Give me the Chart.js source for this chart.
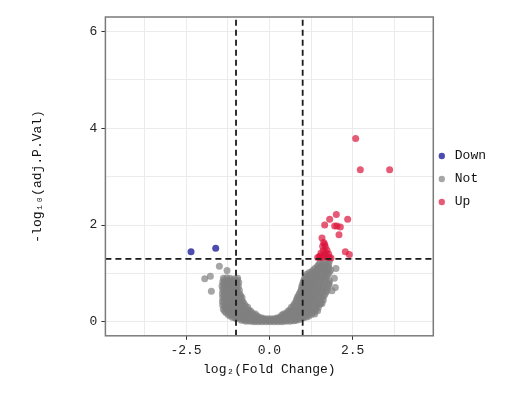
<!DOCTYPE html>
<html>
<head>
<meta charset="utf-8">
<script src="https://cdn.jsdelivr.net/npm/chart.js@4/dist/chart.umd.min.js"></script>
<style>
  html, body { margin: 0; padding: 0; background: #fff; }
  #wrap { width: 530px; height: 394px; }
</style>
</head>
<body>
<div id="wrap"><canvas id="volcano"></canvas></div>
<script>
// Data: [log2FC, -log10(adj.P.Val)]
const groupLabels = ["Down", "Not", "Up"];
const groupColors = ["rgba(0,0,139,0.7)", "rgba(128,128,128,0.7)", "rgba(220,20,60,0.7)"];

const downPoints = [[-2.35, 1.45], [-1.61, 1.52]];

const upPoints = [
  [2.59, 3.79], [2.73, 3.14], [3.61, 3.14], [2.01, 2.22], [1.81, 2.12], [2.35, 2.12],
  [1.66, 2.00], [1.96, 1.98], [2.03, 1.98], [2.13, 1.96], [2.09, 1.80], [1.58, 1.73],
  [1.63, 1.64], [1.68, 1.55], [1.73, 1.48], [2.28, 1.45], [2.40, 1.39], [1.45, 1.33],
  [1.52, 1.36], [1.58, 1.33], [1.65, 1.37], [1.72, 1.34], [1.80, 1.33], [1.55, 1.42],
  [1.62, 1.47], [1.70, 1.42], [1.78, 1.40], [1.60, 1.56], [1.66, 1.60], [1.50, 1.34],
  [1.85, 1.32]
];

const notPoints = [
  // left stragglers
  [-1.94, 0.89], [-1.77, 0.94], [-1.74, 0.63], [-1.50, 1.15], [-1.27, 1.06],
  // left arm
  [-1.38, 0.90], [-1.28, 0.91], [-1.18, 0.90], [-1.05, 0.89], [-0.95, 0.90],
  [-1.35, 0.86], [-1.25, 0.86], [-1.15, 0.86], [-1.03, 0.86], [-0.96, 0.86],
  [-1.40, 0.82], [-1.30, 0.83], [-1.20, 0.81], [-1.10, 0.82], [-1.00, 0.83], [-0.92, 0.81],
  [-1.37, 0.78], [-1.27, 0.78], [-1.17, 0.78], [-1.07, 0.78], [-0.97, 0.78],
  [-1.42, 0.74], [-1.32, 0.75], [-1.22, 0.73], [-1.12, 0.74], [-1.02, 0.75], [-0.93, 0.73],
  [-1.37, 0.70], [-1.27, 0.70], [-1.17, 0.70], [-1.07, 0.70], [-0.97, 0.70],
  [-1.40, 0.66], [-1.30, 0.67], [-1.20, 0.65], [-1.10, 0.66], [-1.00, 0.67], [-0.90, 0.65],
  [-1.36, 0.62], [-1.26, 0.62], [-1.16, 0.62], [-1.06, 0.62], [-0.95, 0.62],
  [-1.41, 0.58], [-1.31, 0.59], [-1.21, 0.57], [-1.11, 0.58], [-1.01, 0.59], [-0.89, 0.57],
  [-1.36, 0.54], [-1.26, 0.54], [-1.16, 0.54], [-1.06, 0.54], [-0.96, 0.54], [-0.86, 0.54],
  [-1.40, 0.50], [-1.30, 0.51], [-1.20, 0.49], [-1.10, 0.50], [-1.00, 0.51], [-0.90, 0.49], [-0.82, 0.50],
  [-1.36, 0.46], [-1.26, 0.46], [-1.16, 0.46], [-1.06, 0.46], [-0.96, 0.46], [-0.85, 0.46],
  [-1.41, 0.42], [-1.31, 0.43], [-1.21, 0.41], [-1.11, 0.42], [-1.01, 0.43], [-0.91, 0.41], [-0.80, 0.42],
  [-1.36, 0.38], [-1.26, 0.38], [-1.16, 0.38], [-1.06, 0.38], [-0.96, 0.38], [-0.85, 0.38], [-0.76, 0.38],
  [-1.40, 0.34], [-1.30, 0.35], [-1.20, 0.33], [-1.10, 0.34], [-1.00, 0.35], [-0.90, 0.33], [-0.80, 0.34], [-0.72, 0.33],
  [-1.34, 0.30], [-1.24, 0.30], [-1.14, 0.30], [-1.04, 0.30], [-0.94, 0.30], [-0.84, 0.30], [-0.74, 0.30], [-0.65, 0.30],
  [-1.38, 0.26], [-1.28, 0.27], [-1.18, 0.25], [-1.08, 0.26], [-0.98, 0.27], [-0.88, 0.25], [-0.78, 0.26], [-0.68, 0.25], [-0.60, 0.24],
  [-1.34, 0.22], [-1.24, 0.22], [-1.14, 0.22], [-1.04, 0.22], [-0.94, 0.22], [-0.84, 0.22], [-0.74, 0.22], [-0.64, 0.22], [-0.55, 0.21],
  [-1.30, 0.19], [-1.20, 0.20], [-1.10, 0.18], [-1.00, 0.19], [-0.90, 0.20], [-0.80, 0.18], [-0.70, 0.19], [-0.60, 0.18], [-0.50, 0.17], [-0.42, 0.16],
  [-1.24, 0.15], [-1.14, 0.15], [-1.04, 0.15], [-0.94, 0.15], [-0.84, 0.15], [-0.74, 0.15], [-0.64, 0.15], [-0.54, 0.14], [-0.45, 0.13], [-0.36, 0.12],
  [-1.18, 0.12], [-1.08, 0.13], [-0.98, 0.11], [-0.88, 0.12], [-0.78, 0.11], [-0.68, 0.12], [-0.58, 0.11], [-0.48, 0.10], [-0.38, 0.10], [-0.30, 0.09], [-0.22, 0.08],
  // bottom of the U
  [-1.10, 0.09], [-1.02, 0.09], [-0.92, 0.09], [-0.82, 0.09], [-0.72, 0.08], [-0.62, 0.08], [-0.52, 0.08], [-0.42, 0.07],
  [-0.33, 0.07], [-0.25, 0.06], [-0.15, 0.06], [-0.05, 0.06], [0.05, 0.06], [0.15, 0.06], [0.25, 0.06], [0.34, 0.07],
  [0.43, 0.07], [0.53, 0.08], [0.63, 0.08], [0.73, 0.08], [0.83, 0.09], [0.93, 0.09], [1.03, 0.09], [1.12, 0.10],
  [-1.00, 0.07], [-0.90, 0.06], [-0.80, 0.06], [-0.70, 0.05], [-0.60, 0.05], [-0.50, 0.05], [-0.40, 0.04],
  [-0.30, 0.04], [-0.20, 0.04], [-0.10, 0.04], [0.00, 0.04], [0.10, 0.04], [0.20, 0.04], [0.30, 0.04],
  [0.40, 0.05], [0.50, 0.05], [0.60, 0.05], [0.70, 0.06], [0.80, 0.06], [0.90, 0.07], [1.00, 0.08],
  [-0.84, 0.03], [-0.76, 0.03], [-0.64, 0.03], [-0.52, 0.02], [-0.40, 0.02], [-0.28, 0.02], [-0.16, 0.02], [-0.04, 0.02],
  [0.08, 0.02], [0.20, 0.02], [0.32, 0.02], [0.44, 0.02], [0.56, 0.03], [0.68, 0.03], [0.80, 0.03], [0.88, 0.04],
  [-0.70, 0.01], [-0.58, 0.01], [-0.46, 0.00], [-0.34, 0.00], [-0.22, 0.00], [-0.10, 0.00], [0.02, 0.00],
  [0.14, 0.00], [0.26, 0.00], [0.38, 0.00], [0.50, 0.01], [0.62, 0.01], [0.74, 0.02],
  // right arm
  [0.22, 0.08], [0.30, 0.09], [0.38, 0.10], [0.48, 0.11], [0.58, 0.11], [0.68, 0.12], [0.78, 0.12], [0.88, 0.12], [0.98, 0.12], [1.08, 0.13], [1.18, 0.12],
  [0.36, 0.13], [0.45, 0.14], [0.55, 0.15], [0.65, 0.15], [0.75, 0.15], [0.85, 0.15], [0.95, 0.15], [1.05, 0.15], [1.15, 0.15], [1.26, 0.15], [1.36, 0.16],
  [0.42, 0.16], [0.50, 0.17], [0.60, 0.18], [0.70, 0.19], [0.80, 0.19], [0.90, 0.20], [1.00, 0.19], [1.10, 0.18], [1.20, 0.20], [1.32, 0.19],
  [0.55, 0.21], [0.64, 0.22], [0.74, 0.22], [0.84, 0.22], [0.94, 0.22], [1.04, 0.22], [1.14, 0.22], [1.24, 0.22], [1.35, 0.22], [1.45, 0.23],
  [0.60, 0.24], [0.68, 0.25], [0.78, 0.26], [0.88, 0.27], [0.98, 0.26], [1.08, 0.25], [1.18, 0.27], [1.28, 0.26], [1.40, 0.25],
  [0.66, 0.30], [0.75, 0.30], [0.85, 0.30], [0.95, 0.30], [1.05, 0.30], [1.15, 0.30], [1.25, 0.30], [1.36, 0.30], [1.47, 0.30],
  [0.72, 0.33], [0.80, 0.34], [0.90, 0.35], [1.00, 0.33], [1.10, 0.34], [1.20, 0.35], [1.30, 0.33], [1.42, 0.34], [1.52, 0.36],
  [0.76, 0.38], [0.85, 0.38], [0.95, 0.38], [1.05, 0.38], [1.15, 0.38], [1.25, 0.38], [1.36, 0.38], [1.48, 0.38], [1.58, 0.38],
  [0.80, 0.42], [0.91, 0.41], [1.01, 0.43], [1.11, 0.42], [1.21, 0.41], [1.31, 0.43], [1.41, 0.42], [1.55, 0.40],
  [0.82, 0.46], [0.88, 0.46], [0.97, 0.46], [1.07, 0.46], [1.17, 0.46], [1.27, 0.46], [1.37, 0.46], [1.50, 0.46], [1.62, 0.45],
  [0.84, 0.50], [0.92, 0.49], [1.02, 0.51], [1.12, 0.50], [1.22, 0.49], [1.32, 0.51], [1.44, 0.50], [1.58, 0.48],
  [0.87, 0.54], [0.96, 0.54], [1.06, 0.54], [1.16, 0.54], [1.26, 0.54], [1.36, 0.54], [1.48, 0.54], [1.62, 0.53],
  [0.90, 0.58], [1.00, 0.57], [1.10, 0.59], [1.20, 0.58], [1.30, 0.57], [1.40, 0.59], [1.52, 0.58], [1.66, 0.56],
  [0.93, 0.62], [1.03, 0.62], [1.13, 0.62], [1.23, 0.62], [1.33, 0.62], [1.44, 0.62], [1.56, 0.62], [1.70, 0.61],
  [0.96, 0.66], [1.06, 0.65], [1.16, 0.67], [1.26, 0.66], [1.36, 0.65], [1.48, 0.67], [1.60, 0.66], [1.72, 0.64],
  [0.97, 0.70], [1.07, 0.70], [1.17, 0.70], [1.27, 0.70], [1.37, 0.70], [1.49, 0.70], [1.61, 0.70], [1.74, 0.69],
  [0.98, 0.74], [1.08, 0.73], [1.18, 0.75], [1.28, 0.74], [1.38, 0.73], [1.50, 0.75], [1.62, 0.74], [1.76, 0.73],
  [1.00, 0.78], [1.10, 0.78], [1.20, 0.78], [1.30, 0.78], [1.40, 0.78], [1.52, 0.78], [1.64, 0.78], [1.78, 0.77],
  [1.02, 0.82], [1.12, 0.81], [1.22, 0.83], [1.32, 0.82], [1.42, 0.81], [1.54, 0.83], [1.66, 0.82], [1.80, 0.80],
  [1.04, 0.86], [1.14, 0.86], [1.24, 0.86], [1.34, 0.86], [1.44, 0.86], [1.56, 0.86], [1.68, 0.86], [1.80, 0.85],
  [1.06, 0.90], [1.16, 0.89], [1.26, 0.91], [1.36, 0.90], [1.46, 0.89], [1.58, 0.91], [1.70, 0.90],
  [1.09, 0.94], [1.19, 0.94], [1.29, 0.94], [1.39, 0.94], [1.49, 0.94], [1.61, 0.94], [1.73, 0.94],
  [1.12, 0.98], [1.22, 0.97], [1.32, 0.99], [1.42, 0.98], [1.52, 0.97], [1.64, 0.99], [1.76, 0.98],
  [1.20, 1.02], [1.27, 1.02], [1.37, 1.02], [1.47, 1.02], [1.57, 1.02], [1.68, 1.02], [1.80, 1.02],
  [1.30, 1.06], [1.40, 1.05], [1.50, 1.07], [1.60, 1.06], [1.72, 1.05], [1.84, 1.07],
  [1.36, 1.10], [1.45, 1.10], [1.55, 1.10], [1.66, 1.10], [1.78, 1.10],
  [1.44, 1.14], [1.54, 1.13], [1.64, 1.15], [1.76, 1.14],
  [1.48, 1.18], [1.58, 1.18], [1.68, 1.18], [1.78, 1.18],
  [1.52, 1.22], [1.62, 1.23], [1.72, 1.21], [1.80, 1.25],
  // right stragglers
  [1.98, 0.71], [1.88, 0.64], [1.95, 0.90], [2.00, 1.10]
];

const xTickLabels = [-2.5, 0, 2.5];
const xGridValues = [-3.75, -2.5, -1.25, 0, 1.25, 2.5, 3.75];
const yTickLabels = [0, 2, 4, 6];
const yGridValues = [0, 1, 2, 3, 4, 5, 6];
const fcCutoffs = [-1, 1];
const pCutoff = 1.3;
const xRange = [-4.92, 4.92];
const yRange = [-0.29, 6.3];

const monoFont = "'Liberation Mono', 'DejaVu Sans Mono', monospace";

function toXY(list) {
  return list.map((p) => ({ x: p[0], y: p[1] }));
}

function dashed(data) {
  return {
    type: "line",
    data: data,
    borderColor: "#1a1a1a",
    borderWidth: 1.8,
    borderDash: [6, 4],
    pointRadius: 0,
    fill: false,
    order: 0,
  };
}

const datasets = [
  { label: groupLabels[0], data: toXY(downPoints), backgroundColor: groupColors[0], order: 1 },
  { label: groupLabels[1], data: toXY(notPoints), backgroundColor: groupColors[1], order: 2 },
  { label: groupLabels[2], data: toXY(upPoints), backgroundColor: groupColors[2], order: 1 },
];
datasets.forEach((d) => {
  d.pointRadius = 3.5;
  d.pointBorderWidth = 0;
  d.borderColor = "transparent";
});
fcCutoffs.forEach((fc) => {
  datasets.push(dashed([{ x: fc, y: yRange[0] }, { x: fc, y: yRange[1] }]));
});
datasets.push(dashed([{ x: xRange[0], y: pCutoff }, { x: xRange[1], y: pCutoff }]));

// panel border on all four sides, legend nudged to sit beside the panel centre
const panelBorder = {
  id: "panelBorder",
  afterLayout(chart) {
    const lg = chart.legend;
    if (lg) {
      lg.top -= 18;
      lg.bottom -= 18;
      lg.left -= 8;
      lg.right -= 8;
    }
  },
  afterDraw(chart) {
    const a = chart.chartArea;
    const ctx = chart.ctx;
    ctx.save();
    ctx.strokeStyle = "#7a7a7a";
    ctx.lineWidth = 1.5;
    ctx.strokeRect(a.left, a.top, a.right - a.left, a.bottom - a.top);
    ctx.restore();
  },
};

new Chart(document.getElementById("volcano"), {
  type: "scatter",
  data: { datasets: datasets },
  plugins: [panelBorder],
  options: {
    responsive: true,
    maintainAspectRatio: false,
    animation: false,
    layout: { padding: { left: 30, right: 26, top: 17, bottom: 17 } },
    scales: {
      x: {
        type: "linear",
        min: xRange[0],
        max: xRange[1],
        afterBuildTicks: (axis) => {
          axis.ticks = xGridValues.map((v) => ({ value: v }));
        },
        border: { display: false },
        grid: {
          color: "#ebebeb",
          lineWidth: 1,
          tickLength: 4,
          tickColor: (ctx) => (xTickLabels.includes(ctx.tick.value) ? "#333" : "transparent"),
        },
        ticks: {
          autoSkip: false,
          maxRotation: 0,
          padding: 3,
          color: "#222",
          font: { family: monoFont, size: 13 },
          callback: (v) => (xTickLabels.includes(v) ? v.toFixed(1) : ""),
        },
        title: {
          display: true,
          text: "log₂(Fold Change)",
          color: "#111",
          font: { family: monoFont, size: 13 },
          padding: { top: 0, bottom: 0 },
        },
      },
      y: {
        type: "linear",
        min: yRange[0],
        max: yRange[1],
        afterBuildTicks: (axis) => {
          axis.ticks = yGridValues.map((v) => ({ value: v }));
        },
        border: { display: false },
        grid: {
          color: "#ebebeb",
          lineWidth: 1,
          tickLength: 4,
          tickColor: (ctx) => (yTickLabels.includes(ctx.tick.value) ? "#333" : "transparent"),
        },
        ticks: {
          autoSkip: false,
          padding: 4,
          color: "#222",
          font: { family: monoFont, size: 13 },
          callback: (v) => (yTickLabels.includes(v) ? String(v) : ""),
        },
        title: {
          display: true,
          text: "-log₁₀(adj.P.Val)",
          color: "#111",
          font: { family: monoFont, size: 13 },
          padding: { top: 0, bottom: 40 },
        },
      },
    },
    plugins: {
      tooltip: { enabled: false },
      legend: {
        position: "right",
        align: "center",
        labels: {
          usePointStyle: true,
          pointStyle: "circle",
          boxHeight: 4.5,
          padding: 10,
          color: "#111",
          font: { family: monoFont, size: 13 },
          filter: (item) => item.datasetIndex < 3,
          sort: (a, b) => a.datasetIndex - b.datasetIndex,
        },
      },
    },
  },
});
</script>
</body>
</html>
